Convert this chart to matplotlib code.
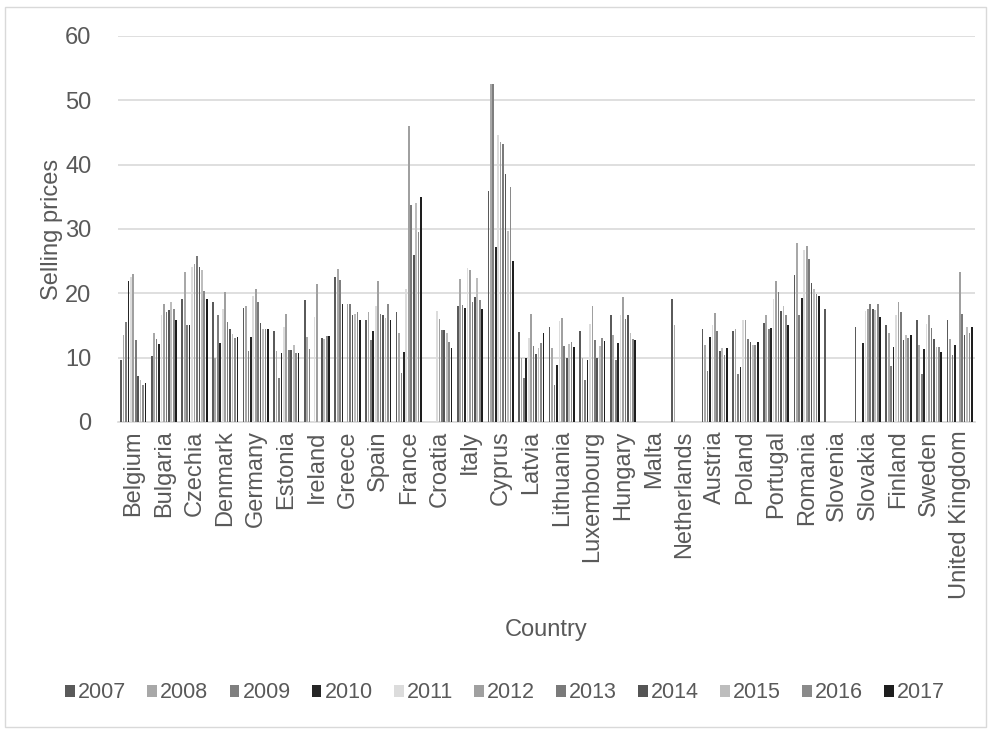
import matplotlib
matplotlib.use("Agg")
import matplotlib.pyplot as plt
from matplotlib.patches import Rectangle
import numpy as np

nan = np.nan

countries = ["Belgium", "Bulgaria", "Czechia", "Denmark", "Germany", "Estonia", "Ireland",
             "Greece", "Spain", "France", "Croatia", "Italy", "Cyprus", "Latvia", "Lithuania",
             "Luxembourg", "Hungary", "Malta", "Netherlands", "Austria", "Poland", "Portugal",
             "Romania", "Slovenia", "Slovakia", "Finland", "Sweden", "United Kingdom"]

years = ["2007", "2008", "2009", "2010", "2011", "2012", "2013", "2014", "2015", "2016", "2017"]

y2007 = [9.6, 10.2, 19.1, 18.6, 17.7, 14.1, 18.9, 22.6, 15.9, 17.1, nan, 18.0, 35.9, 14.0,
         14.8, 14.1, 16.6, nan, 19.1, 14.4, 14.2, 15.4, 22.9, 17.6, 14.8, 15.1, 15.9, 15.9]
y2008 = [13.6, 13.9, 23.3, 10.0, 18.1, 11.1, 13.2, 23.8, 17.1, 13.9, nan, 22.2, 52.6, 10.0,
         11.5, 10.0, 13.6, nan, 15.1, 11.9, 14.4, 16.6, 27.9, nan, nan, 13.9, 11.9, 12.9]
y2009 = [15.6, 12.9, 15.1, 16.7, 11.1, 6.9, 11.4, 22.1, 12.7, 7.6, nan, 18.2, 52.6, 6.8,
         5.8, 6.6, 9.6, nan, nan, 7.9, 7.4, 14.5, 16.7, nan, nan, 8.7, 7.4, 10.4]
y2010 = [21.9, 12.1, 15.1, 12.3, 13.2, 10.7, nan, 18.3, 14.1, 10.9, nan, 17.7, 27.2, 10.0,
         8.8, 9.6, 12.3, nan, nan, 13.2, 8.6, 14.6, 19.2, nan, 12.3, 11.6, 11.4, 11.9]
y2011 = [22.5, 16.7, 24.1, 17.6, 19.6, 14.8, 16.3, nan, 18.1, 20.6, 17.2, 24.0, 44.6, 13.1,
         15.7, 15.3, 16.6, nan, nan, 15.1, 15.9, 19.1, 26.7, nan, 17.3, 16.7, 15.2, nan]
y2012 = [23.0, 18.4, 24.6, 20.2, 20.6, 16.8, 21.4, 18.3, 21.9, 46.0, 16.0, 23.7, 43.6, 16.8,
         16.1, 18.1, 19.4, nan, nan, 16.9, 15.9, 21.9, 27.4, nan, 17.6, 18.6, 16.6, 23.3]
y2013 = [12.7, 17.1, 25.8, 15.6, 18.6, 11.2, nan, 18.3, 16.8, 33.7, 14.3, 18.7, 43.2, 11.8,
         11.8, 12.8, 16.0, nan, nan, 14.2, 12.9, 20.2, 25.4, nan, 18.4, 17.1, 14.6, 16.8]
y2014 = [7.1, 17.4, 24.1, 14.4, 15.4, 11.2, 13.0, 16.6, 16.7, 26.0, 14.3, 19.4, 38.6, 10.6,
         10.0, 10.0, 16.6, nan, nan, 11.1, 12.4, 17.3, 21.6, nan, 17.6, 12.7, 12.9, 13.6]
y2015 = [6.6, 18.6, 23.6, 13.7, 14.4, 11.9, 12.9, 16.8, 16.1, 34.0, 13.9, 22.4, 29.7, 11.5,
         12.2, 11.8, 13.9, nan, nan, 11.5, 11.9, 18.1, 20.7, nan, 17.4, 13.6, 11.6, 14.8]
y2016 = [5.7, 17.6, 20.4, 13.0, 14.4, 10.7, 13.3, 17.1, 18.4, 29.5, 12.5, 19.0, 36.5, 12.3,
         12.4, 13.1, 12.9, nan, nan, 10.4, 11.9, 16.7, 19.9, nan, 18.4, 13.1, 11.6, 13.8]
y2017 = [6.1, 15.9, 19.1, 13.2, 14.4, 10.7, 13.4, 15.9, 15.9, 35.0, 11.5, 17.5, 25.0, 13.9,
         11.6, 12.6, 12.8, nan, nan, 11.5, 12.4, 15.1, 19.6, nan, 16.3, 13.6, 10.9, 14.8]

series = [y2007, y2008, y2009, y2010, y2011, y2012, y2013, y2014, y2015, y2016, y2017]
colors = ["#5a5a5a", "#a8a8a8", "#7f7f7f", "#262626", "#dcdcdc", "#a0a0a0",
          "#7a7a7a", "#555555", "#bdbdbd", "#8a8a8a", "#1e1e1e"]

plt.rcParams["font.family"] = ["Liberation Sans", "DejaVu Sans"]
text_col = "#595959"
grid_col = "#d9d9d9"

fig = plt.figure(figsize=(9.93, 7.30), dpi=100)
ax = fig.add_axes([118 / 993, 1 - 422 / 730, 857 / 993, 386 / 730])

x = np.arange(len(countries))
slot = 0.08
for k, (yr, vals, col) in enumerate(zip(years, series, colors)):
    ax.bar(x + (k - 5) * slot, vals, width=0.055, color=col, label=yr, linewidth=0, zorder=3)

ax.set_xlim(-0.5, len(countries) - 0.5)
ax.set_ylim(0, 60)
ax.set_yticks(range(0, 61, 10))
ax.yaxis.grid(True, color=grid_col, linewidth=1.2, zorder=0)
for s in ["top", "right", "left"]:
    ax.spines[s].set_visible(False)
ax.spines["bottom"].set_color(grid_col)
ax.spines["bottom"].set_linewidth(1.2)

ax.set_xticks(x)
ax.set_xticklabels(countries, rotation=90, fontsize=17, color=text_col)
ax.tick_params(axis="x", length=0, pad=6)
ax.tick_params(axis="y", length=0, pad=19, labelsize=17, labelcolor=text_col)

fig.text(52 / 993, 1 - 229 / 730, "Selling prices", rotation=90, fontsize=17,
         color=text_col, ha="center", va="center")
fig.text(546 / 993, 1 - 630 / 730, "Country", fontsize=17, color=text_col,
         ha="center", va="center")

fig.legend(loc="center", bbox_to_anchor=(505 / 993, 1 - 693 / 730), ncol=11,
           frameon=False, fontsize=15.5, labelcolor=text_col,
           handlelength=0.45, handleheight=0.45, handletextpad=0.15, columnspacing=0.98)

fig.patches.append(Rectangle((5 / 993, 3 / 730), 981 / 993, 720 / 730, transform=fig.transFigure,
                             fill=False, edgecolor=grid_col, linewidth=1))

fig.savefig("out.png", dpi=100)
